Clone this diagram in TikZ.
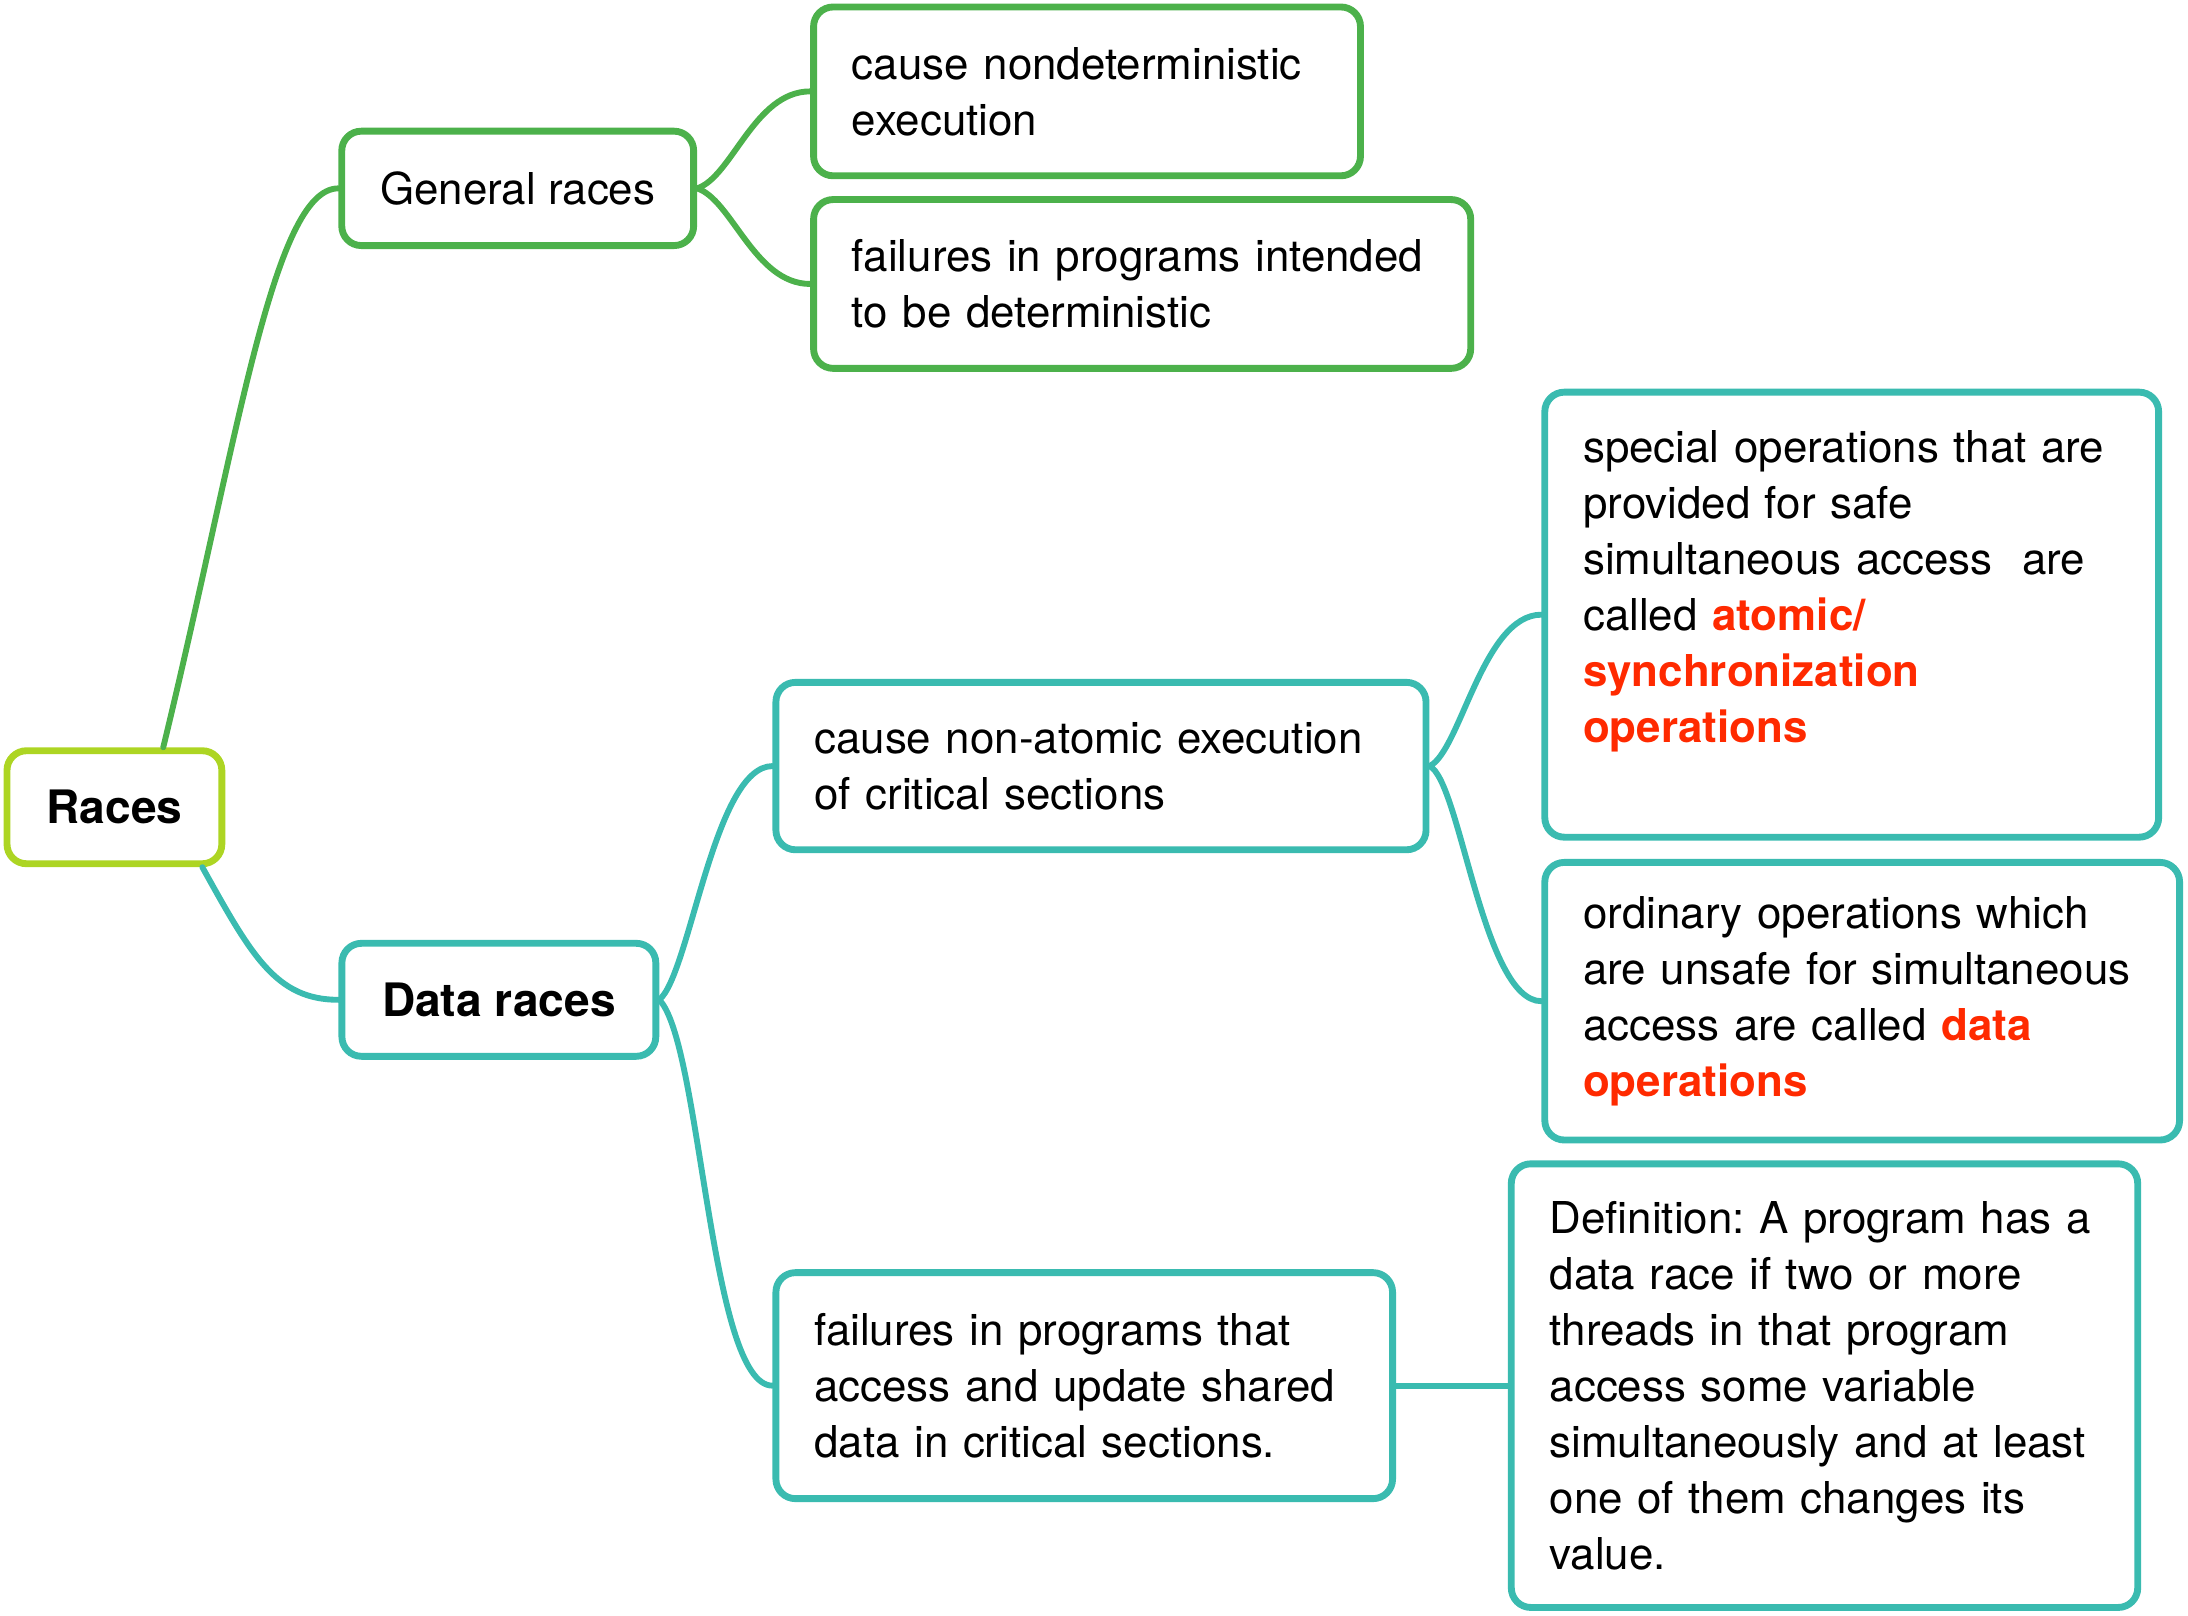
\documentclass[tikz,border=0pt]{standalone}
\usepackage{fontspec}
\setmainfont{TeX Gyre Heros}
\usetikzlibrary{calc}

\definecolor{rootlime}{HTML}{ADD523}
\definecolor{gengreen}{HTML}{4CB14B}
\definecolor{datateal}{HTML}{3ABBB0}
\definecolor{hotred}{HTML}{FF2A00}

\tikzset{
  topic/.style={draw, line width=2.8pt, rounded corners=0.28cm, fill=white,
    inner xsep=0.55cm, inner ysep=0pt, align=left,
    font=\fontsize{17.9}{22.8}\selectfont},
  maintopic/.style={topic, align=center, minimum height=1.62cm,
    font=\fontsize{18.8}{22.8}\selectfont\bfseries},
  branch/.style={line width=2.4pt, line cap=round},
}
\newcommand{\hl}[1]{{\bfseries\color{hotred}#1}}
\frenchspacing

\begin{document}
\begin{tikzpicture}[x=0.02cm, y=-0.02cm]
  \useasboundingbox (0,0) rectangle (1568,1158);

  % Root and main topics
  \node[maintopic, draw=rootlime, minimum width=3.08cm] (races) at (82,578.5) {Races};
  \node[topic, draw=gengreen, minimum width=5.04cm, minimum height=1.64cm] (gen) at (371,135) {General races};
  \node[maintopic, draw=datateal, minimum width=4.5cm] (dr) at (357.5,716.5) {Data races};

  % General races
  \node[topic, draw=gengreen, text width=6.74cm, minimum height=2.42cm] (nondet) at (779,65.5)
    {cause nondeterministic\\execution};
  \node[topic, draw=gengreen, text width=8.32cm, minimum height=2.42cm] (intended) at (818.5,203.5)
    {failures in programs intended\\to be deterministic};

  % Data races
  \node[topic, draw=datateal, text width=8.22cm, minimum height=2.40cm] (nonatomic) at (789,549)
    {cause non-atomic execution\\of critical sections};
  \node[topic, draw=datateal, text width=7.74cm, minimum height=3.24cm] (shared) at (777,993)
    {failures in programs that\\access and update shared\\data in critical sections.};
  \node[topic, draw=datateal, text width=7.70cm, minimum height=6.38cm] (atomicops) at (1327,440.5)
    {special operations that are\\provided for safe\\simultaneous access\ \ are\\called \hl{atomic/}\\\hl{synchronization}\\\hl{operations}\\\mbox{}};
  \node[topic, draw=datateal, text width=8.00cm, minimum height=3.98cm] (dataops) at (1334.5,717.5)
    {ordinary operations which\\are unsafe for simultaneous\\access are called \hl{data}\\\hl{operations}};
  \node[topic, draw=datateal, text width=7.88cm, minimum height=6.36cm] (definition) at (1307.5,993)
    {Definition: A program has a\\data race if two or more\\threads in that program\\access some variable\\simultaneously and at least\\one of them changes its\\value.};

  % Branches
  \draw[branch, gengreen] ($(races.north)+(35,0)$) .. controls +(53,-218) and +(-47,0) .. (gen.west);
  \draw[branch, datateal] ($(races.south)+(63,0)$) .. controls +(35,63) and +(-45,0) .. (dr.west);
  \draw[branch, gengreen] (gen.east) .. controls +(25,-8) and +(-40,0) .. (nondet.west);
  \draw[branch, gengreen] (gen.east) .. controls +(25,8) and +(-40,0) .. (intended.west);
  \draw[branch, datateal] (dr.east) .. controls +(22,-18) and +(-42,0) .. (nonatomic.west);
  \draw[branch, datateal] (dr.east) .. controls +(30,30) and +(-45,0) .. (shared.west);
  \draw[branch, datateal] (nonatomic.east) .. controls +(22,-10) and +(-42,0) .. (atomicops.west);
  \draw[branch, datateal] (nonatomic.east) .. controls +(22,10) and +(-42,0) .. (dataops.west);
  \draw[branch, datateal] (shared.east) -- (definition.west);
\end{tikzpicture}
\end{document}
